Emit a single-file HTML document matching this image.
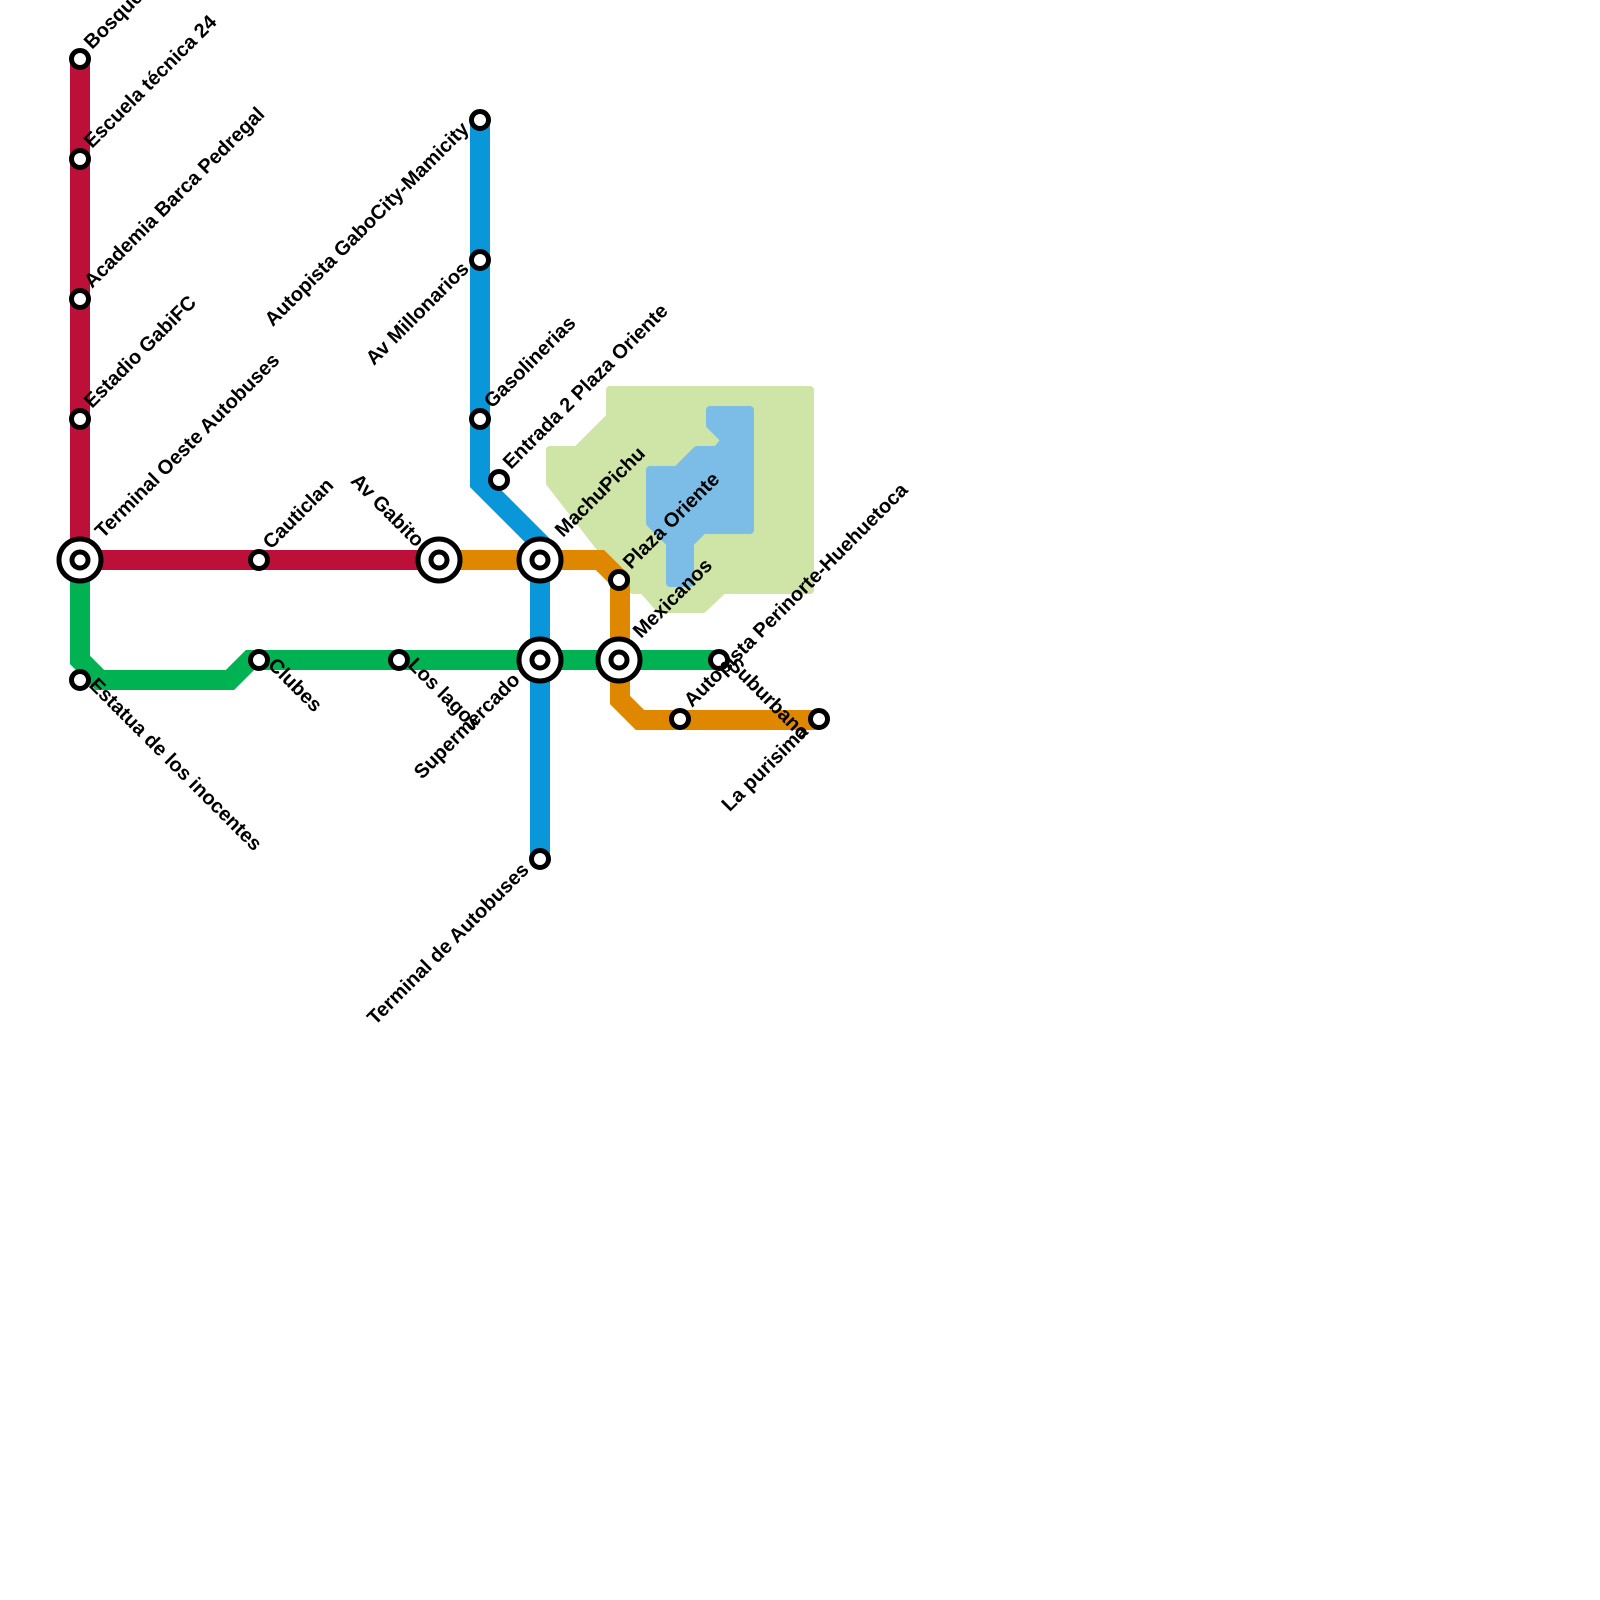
<!DOCTYPE html>
<html><head><meta charset="utf-8"><style>
html,body{margin:0;padding:0;background:#fff;width:1600px;height:1600px;overflow:hidden}
text{font-family:"Liberation Sans",Arial,sans-serif;font-weight:bold;font-size:20px;fill:#000}
</style></head><body>
<svg width="1600" height="1600" viewBox="0 0 1600 1600" xmlns="http://www.w3.org/2000/svg">
<polygon points="610,390 810,390 810,590 723,590 703,609 660,609 643,590 633,590 550,483 550,450 577,450 610,417" fill="#CFE4A7" stroke="#CFE4A7" stroke-width="8" stroke-linejoin="round"/>
<polygon points="710,410 750,410 750,530 703,530 690,543 690,583 670,583 670,543 650,523 650,470 677,470 697,450 717,450 725,440 710,425" fill="#7BBDE7" stroke="#7BBDE7" stroke-width="8" stroke-linejoin="round"/>
<g fill="none" stroke-width="20">
<polyline points="80,59 80,560 439,560" stroke="#BD1038"/>
<polyline points="80,560 80,660 100,680 230,680 250,660 719,660" stroke="#00B251"/>
<polyline points="480,120 480,483 540,543 540,859" stroke="#0A97D9"/>
<polyline points="439,560 600,560 620,580 620,700 640,720 819,720" stroke="#E08700"/>
</g>
<g fill="#fff" stroke="#000" stroke-width="5">
<circle cx="80" cy="59" r="8.5"/><circle cx="80" cy="159" r="8.5"/><circle cx="80" cy="299" r="8.5"/><circle cx="80" cy="419" r="8.5"/>
<circle cx="259" cy="560" r="8.5"/><circle cx="480" cy="120" r="8.5"/><circle cx="480" cy="260" r="8.5"/><circle cx="480" cy="419" r="8.5"/>
<circle cx="499" cy="480" r="8.5"/><circle cx="619" cy="580" r="8.5"/><circle cx="680" cy="719" r="8.5"/><circle cx="819" cy="719" r="8.5"/>
<circle cx="80" cy="680" r="8.5"/><circle cx="259" cy="660" r="8.5"/><circle cx="399" cy="660" r="8.5"/><circle cx="719" cy="660" r="8.5"/>
<circle cx="540" cy="859" r="8.5"/>
<circle cx="80" cy="560" r="21"/><circle cx="80" cy="560" r="8"/>
<circle cx="439" cy="560" r="21"/><circle cx="439" cy="560" r="8"/>
<circle cx="540" cy="560" r="21"/><circle cx="540" cy="560" r="8"/>
<circle cx="540" cy="660" r="21"/><circle cx="540" cy="660" r="8"/>
<circle cx="619" cy="660" r="21"/><circle cx="619" cy="660" r="8"/>
</g>
<g>
<text transform="translate(92,50) rotate(-45)">Bosque</text>
<text transform="translate(92,149) rotate(-45)">Escuela técnica 24</text>
<text transform="translate(92,289) rotate(-45)">Academia Barca Pedregal</text>
<text transform="translate(92,409) rotate(-45)">Estadio GabiFC</text>
<text transform="translate(103,539) rotate(-45)">Terminal Oeste Autobuses</text>
<text transform="translate(271,550) rotate(-45)">Cauticlan</text>
<text transform="translate(492,409) rotate(-45)">Gasolinerias</text>
<text transform="translate(511,470) rotate(-45)">Entrada 2 Plaza Oriente</text>
<text transform="translate(563,538) rotate(-45)">MachuPichu</text>
<text transform="translate(631,570) rotate(-45)">Plaza Oriente</text>
<text transform="translate(641,639) rotate(-45)">Mexicanos</text>
<text transform="translate(692,708) rotate(-45)">Autopista Perinorte-Huehuetoca</text>
<text text-anchor="end" transform="translate(470,130) rotate(-45)">Autopista GaboCity-Mamicity</text>
<text text-anchor="end" transform="translate(470,270) rotate(-45)">Av Millonarios</text>
<text text-anchor="end" transform="translate(521,681) rotate(-45)">Supermercado</text>
<text text-anchor="end" transform="translate(530,871) rotate(-45)">Terminal de Autobuses</text>
<text text-anchor="end" transform="translate(809,733) rotate(-45)">La purisima</text>
<text transform="translate(88,686) rotate(45)">Estatua de los inocentes</text>
<text transform="translate(267,666) rotate(45)">Clubes</text>
<text transform="translate(407,666) rotate(45)">Los lagos</text>
<text transform="translate(727,666) rotate(45)">Suburbano</text>
<text text-anchor="end" transform="translate(416,548) rotate(45)">Av Gabito</text>
</g>
</svg>
</body></html>
